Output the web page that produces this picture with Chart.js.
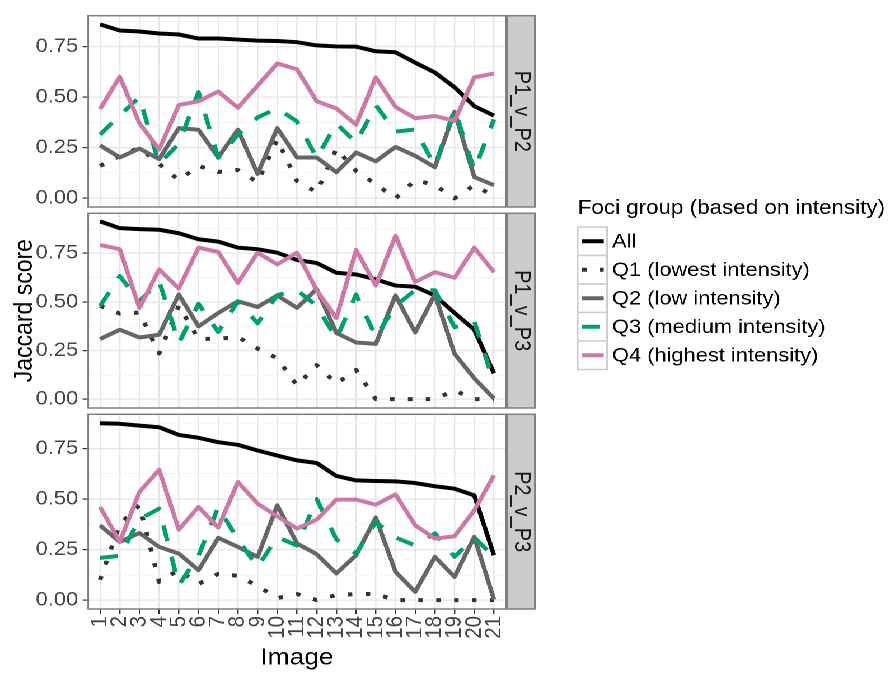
<!DOCTYPE html>
<html>
<head>
<meta charset="utf-8">
<script src="https://cdn.jsdelivr.net/npm/chart.js@4.4.0/dist/chart.umd.min.js"></script>
<style>
html, body { margin: 0; padding: 0; background: #fff; }
#wrap { position: absolute; left: 0; top: 0; width: 795px; height: 673px; transform-origin: 0 0; }
#wrap canvas { position: absolute; left: 0; top: 0; }
</style>
</head>
<body>
<div id="wrap">
  <canvas id="p1" width="795" height="673"></canvas>
  <canvas id="p2" width="795" height="673"></canvas>
  <canvas id="p3" width="795" height="673"></canvas>
</div>
<script>
// ---- data ----
const images = [1, 2, 3, 4, 5, 6, 7, 8, 9, 10, 11, 12, 13, 14, 15, 16, 17, 18, 19, 20, 21];
const groups = ['All', 'Q1 (lowest intensity)', 'Q2 (low intensity)', 'Q3 (medium intensity)', 'Q4 (highest intensity)'];
const panelNames = ['P1_v_P2', 'P1_v_P3', 'P2_v_P3'];
const yMajor = [0, 0.25, 0.5, 0.75];
const yMinor = [0.125, 0.375, 0.625, 0.875];

// P1_v_P2
const p12All = [0.86, 0.83, 0.825, 0.815, 0.81, 0.79, 0.79, 0.785, 0.78, 0.778, 0.772, 0.756, 0.751, 0.75, 0.727, 0.722, 0.671, 0.622, 0.549, 0.456, 0.409];
const p12Q1 = [0.16, 0.21, 0.25, 0.17, 0.09, 0.16, 0.13, 0.14, 0.08, 0.29, 0.085, 0.03, 0.245, 0.135, 0.07, 0.0, 0.09, 0.065, 0.0, 0.065, 0.01];
const p12Q2 = [0.262, 0.202, 0.246, 0.194, 0.347, 0.339, 0.202, 0.339, 0.121, 0.347, 0.202, 0.202, 0.129, 0.226, 0.183, 0.254, 0.21, 0.154, 0.428, 0.105, 0.065];
const p12Q3 = [0.315, 0.41, 0.5, 0.17, 0.27, 0.525, 0.2, 0.315, 0.4, 0.445, 0.38, 0.2, 0.37, 0.275, 0.46, 0.33, 0.34, 0.16, 0.44, 0.14, 0.39];
const p12Q4 = [0.441, 0.601, 0.372, 0.242, 0.461, 0.48, 0.528, 0.448, 0.557, 0.667, 0.638, 0.48, 0.444, 0.364, 0.598, 0.452, 0.396, 0.407, 0.383, 0.598, 0.617];

// P1_v_P3
const p13All = [0.914, 0.879, 0.874, 0.871, 0.853, 0.822, 0.81, 0.779, 0.771, 0.753, 0.715, 0.7, 0.65, 0.641, 0.616, 0.584, 0.578, 0.533, 0.443, 0.357, 0.133];
const p13Q1 = [0.48, 0.44, 0.445, 0.235, 0.48, 0.31, 0.31, 0.32, 0.26, 0.21, 0.07, 0.175, 0.08, 0.15, 0.0, 0.0, 0.0, 0.0, 0.045, 0.0, 0.0];
const p13Q2 = [0.309, 0.357, 0.317, 0.331, 0.538, 0.374, 0.443, 0.503, 0.474, 0.533, 0.469, 0.567, 0.34, 0.291, 0.284, 0.533, 0.343, 0.538, 0.233, 0.107, 0.003];
const p13Q3 = [0.478, 0.633, 0.503, 0.607, 0.288, 0.49, 0.345, 0.503, 0.39, 0.535, 0.56, 0.48, 0.31, 0.538, 0.32, 0.48, 0.56, 0.56, 0.37, 0.4, 0.081];
const p13Q4 = [0.793, 0.771, 0.469, 0.667, 0.569, 0.779, 0.757, 0.598, 0.753, 0.693, 0.753, 0.56, 0.417, 0.767, 0.584, 0.84, 0.602, 0.653, 0.624, 0.779, 0.653];

// P2_v_P3
const p23All = [0.875, 0.872, 0.863, 0.855, 0.817, 0.803, 0.781, 0.768, 0.74, 0.715, 0.691, 0.678, 0.614, 0.592, 0.589, 0.587, 0.579, 0.563, 0.551, 0.518, 0.222];
const p23Q1 = [0.1, 0.375, 0.47, 0.09, 0.15, 0.08, 0.13, 0.12, 0.07, 0.01, 0.03, 0.0, 0.025, 0.03, 0.03, 0.0, 0.0, 0.0, 0.0, 0.0, 0.0];
const p23Q2 = [0.37, 0.288, 0.332, 0.263, 0.23, 0.148, 0.308, 0.263, 0.214, 0.469, 0.28, 0.227, 0.132, 0.222, 0.408, 0.14, 0.041, 0.214, 0.115, 0.313, 0.003];
const p23Q3 = [0.209, 0.219, 0.4, 0.452, 0.074, 0.22, 0.46, 0.3, 0.164, 0.312, 0.27, 0.5, 0.3, 0.23, 0.386, 0.31, 0.27, 0.33, 0.214, 0.31, 0.214];
const p23Q4 = [0.461, 0.288, 0.535, 0.645, 0.349, 0.461, 0.359, 0.584, 0.477, 0.414, 0.354, 0.398, 0.497, 0.497, 0.472, 0.523, 0.37, 0.304, 0.316, 0.444, 0.617];

const panelSeries = [
  [p12All, p12Q1, p12Q2, p12Q3, p12Q4],
  [p13All, p13Q1, p13Q2, p13Q3, p13Q4],
  [p23All, p23Q1, p23Q2, p23Q3, p23Q4]
];

// ---- styles / layout ----
const groupColors = ['#000000', '#333333', '#666666', '#009E73', '#CC79A7'];
const groupDash = [[], [4, 12], [], [16, 16], []];

// the reference is slightly stretched horizontally; draw narrower and stretch the page
const CANVAS_W = 795, CANVAS_H = 673;
document.getElementById('wrap').style.transform = 'scaleX(' + (890 / CANVAS_W) + ')';

const AXIS_W = 78.8;         // left edge of panels
const PANEL_RIGHT = 451.8;
const panelTops = [12.3, 213.3, 414.3];
const PANEL_H = 194.7;
const yLimits = [[-0.043, 0.903], [-0.0455, 0.9555], [-0.044, 0.919]];
const FONT = '"Liberation Sans", Arial, Helvetica, sans-serif';
const TICK_TEXT = '#444444';
Chart.defaults.font.family = FONT;

const isMajor = v => yMajor.some(m => Math.abs(m - v) < 1e-9);

const panelDeco = {
  id: 'panelDeco',
  afterDraw(chart, args, opts) {
    const {ctx, chartArea: a} = chart;
    const h = a.bottom - a.top;
    ctx.save();
    ctx.strokeStyle = '#7f7f7f';
    ctx.lineWidth = 1.5;
    ctx.strokeRect(a.left, a.top, a.right - a.left, h);
    // strip
    const sx = a.right + 1, sw = 25;
    ctx.fillStyle = '#cccccc';
    ctx.fillRect(sx, a.top, sw, h);
    ctx.strokeRect(sx, a.top, sw, h);
    ctx.translate(sx + sw / 2, a.top + h / 2);
    ctx.rotate(Math.PI / 2);
    ctx.font = '20px ' + FONT;
    ctx.fillStyle = '#1a1a1a';
    ctx.textAlign = 'center';
    ctx.textBaseline = 'middle';
    ctx.fillText(opts.label, 0, 0);
    ctx.restore();
  }
};

const legendDeco = {
  id: 'legendDeco',
  afterDraw(chart) {
    const ctx = chart.ctx;
    const x = 516, rowTop = 227, rowH = 28.5, boxW = 26.3;
    ctx.save();
    ctx.font = '20px ' + FONT;
    ctx.fillStyle = '#000';
    ctx.textBaseline = 'alphabetic';
    ctx.fillText('Foci group (based on intensity)', x, 214);
    groups.forEach((g, i) => {
      const y = rowTop + i * rowH;
      ctx.fillStyle = '#fff';
      ctx.fillRect(x, y, boxW, rowH);
      ctx.strokeStyle = '#cccccc';
      ctx.lineWidth = 1.5;
      ctx.setLineDash([]);
      ctx.strokeRect(x, y, boxW, rowH);
      ctx.strokeStyle = groupColors[i];
      ctx.lineWidth = 4;
      ctx.lineCap = 'butt';
      ctx.setLineDash(groupDash[i]);
      ctx.beginPath();
      ctx.moveTo(x + 4, y + rowH / 2);
      ctx.lineTo(x + boxW - 3, y + rowH / 2);
      ctx.stroke();
      ctx.setLineDash([]);
      ctx.fillStyle = '#000';
      ctx.font = '19.5px ' + FONT;
      ctx.textBaseline = 'middle';
      ctx.fillText(g, 546.7, y + rowH / 2 + 1);
    });
    ctx.restore();
  }
};

function makePanel(id, p) {
  const isBottom = p === 2;
  const isMid = p === 1;
  const top = panelTops[p];
  const xAxisH = isBottom ? 64 : 0;
  const bottomPad = CANVAS_H - (top + PANEL_H) - xAxisH;
  const [ymin, ymax] = yLimits[p];
  const series = panelSeries[p];

  const datasets = groups.map((g, i) => ({
    label: g,
    data: images.map((im, k) => ({x: im, y: series[i][k]})),
    borderColor: groupColors[i],
    borderDash: groupDash[i],
    borderWidth: 4,
    borderCapStyle: 'butt',
    borderJoinStyle: 'round',
    pointRadius: 0,
    tension: 0,
    fill: false,
    order: groups.length - i
  }));

  return new Chart(document.getElementById(id), {
    type: 'line',
    data: {datasets},
    plugins: isBottom ? [panelDeco, legendDeco] : [panelDeco],
    options: {
      responsive: false,
      devicePixelRatio: 2,
      animation: false,
      events: [],
      layout: {padding: {top: top, bottom: bottomPad, left: 0, right: CANVAS_W - PANEL_RIGHT}},
      plugins: {
        legend: {display: false},
        tooltip: {enabled: false},
        panelDeco: {label: panelNames[p]}
      },
      scales: {
        x: {
          type: 'linear',
          min: 0.4,
          max: 21.6,
          afterBuildTicks: s => { s.ticks = images.map(v => ({value: v})); },
          afterFit: s => { s.height = xAxisH; },
          border: {display: false},
          grid: {color: '#e5e5e5', lineWidth: 1.2, drawTicks: isBottom, tickLength: 5, tickColor: '#333333', tickWidth: 1.2},
          ticks: {
            display: isBottom, autoSkip: false, minRotation: 90, maxRotation: 90, padding: 2,
            color: TICK_TEXT, font: {size: 20.5},
            callback: v => String(v)
          },
          title: {display: isBottom, text: 'Image', color: '#000', font: {size: 23.5}, padding: {top: 0, bottom: 1}}
        },
        y: {
          type: 'linear',
          min: ymin,
          max: ymax,
          afterBuildTicks: s => {
            s.ticks = yMajor.concat(yMinor).filter(v => v >= ymin && v <= ymax)
              .sort((a, b) => a - b).map(v => ({value: v}));
          },
          afterFit: s => { s.width = AXIS_W; },
          border: {display: false},
          grid: {
            color: c => (c.tick && isMajor(c.tick.value)) ? '#e5e5e5' : '#f4f4f4',
            lineWidth: c => (c.tick && isMajor(c.tick.value)) ? 1.2 : 0.9,
            tickColor: c => (c.tick && isMajor(c.tick.value)) ? '#333333' : 'rgba(0,0,0,0)',
            tickLength: 5,
            tickWidth: 1.2
          },
          ticks: {
            padding: 4, color: TICK_TEXT, font: {size: 19.5},
            callback: v => isMajor(v) ? v.toFixed(2) : ''
          },
          title: {display: isMid, text: 'Jaccard score', color: '#000', font: {size: 23}, padding: {top: 8.5, bottom: 0}}
        }
      }
    }
  });
}

const charts = panelNames.map((n, p) => makePanel('p' + (p + 1), p));
</script>
</body>
</html>
